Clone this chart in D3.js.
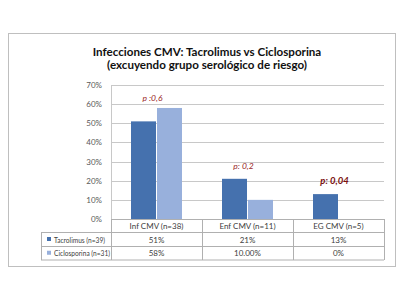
<!DOCTYPE html>
<html>
<head>
<meta charset="utf-8">
<script src="https://cdn.jsdelivr.net/npm/d3@7"></script>
<style>
  body { margin: 0; background: #fff; }
  svg { display: block; font-family: Lato, "Open Sans", sans-serif; }
</style>
</head>
<body>
<div id="chart"></div>
<script>
// --- DATA ---
const categories = ["Inf CMV (n=38)", "Enf CMV (n=11)", "EG CMV (n=5)"];
const seriesNames = ["Tacrolimus (n=39)", "Ciclosporina (n=31)"];
const tacrolimus = [0.51, 0.21, 0.13];
const ciclosporina = [0.58, 0.10, 0.0];
const tableText = [["51%", "21%", "13%"], ["58%", "10.00%", "0%"]];
const pLabels = ["p :0,6", "p: 0,2", "p: 0,04"];
const pValuesAt = [0.63, 0.275, 0.2];
const yTicks = [0, 0.1, 0.2, 0.3, 0.4, 0.5, 0.6, 0.7];

const colors = ["#4571AE", "#98B0DC"];

const W = 404, H = 304;
const svg = d3.select("#chart").append("svg").attr("width", W).attr("height", H);

// outer frame
svg.append("rect").attr("x", 8.5).attr("y", 33.5).attr("width", 387).attr("height", 233)
  .attr("fill", "#fff").attr("stroke", "#bfbfbf");

// title
svg.append("text").attr("x", 207).attr("y", 55.5).attr("text-anchor", "middle")
  .attr("font-weight", "bold").attr("font-size", 11.6).attr("fill", "#111")
  .text("Infecciones CMV: Tacrolimus vs Ciclosporina");
svg.append("text").attr("x", 207).attr("y", 69).attr("text-anchor", "middle")
  .attr("font-weight", "bold").attr("font-size", 11.6).attr("fill", "#111")
  .text("(excuyendo grupo serológico de riesgo)");

// scales
const x0 = d3.scaleBand().domain(categories).range([111, 384]);
const y = d3.scaleLinear().domain([0, 0.7]).range([219, 85]);

// gridlines
svg.append("g").selectAll("line").data(yTicks).join("line")
  .attr("x1", 111).attr("x2", 384)
  .attr("y1", d => Math.round(y(d)) + 0.5).attr("y2", d => Math.round(y(d)) + 0.5)
  .attr("stroke", "#c8c8c8");

// y axis labels
const yAxis = d3.axisLeft(y).tickValues(yTicks).tickFormat(d3.format(".0%")).tickSize(0).tickPadding(9);
const ya = svg.append("g").attr("transform", "translate(111,0)").call(yAxis);
ya.select(".domain").attr("stroke", "#c8c8c8");
ya.selectAll("text").attr("font-size", 8).attr("fill", "#595959").attr("font-family", "Lato, sans-serif");

// bars
const barW = 25;
const series = [tacrolimus, ciclosporina];
series.forEach((vals, si) => {
  svg.append("g").selectAll("rect").data(vals.map((v, i) => ({ v, c: categories[i] }))).join("rect")
    .attr("x", d => x0(d.c) + x0.bandwidth() / 2 - barW - 0.5 + si * (barW + 1))
    .attr("y", d => y(d.v))
    .attr("width", barW)
    .attr("height", d => y(0) - y(d.v))
    .attr("fill", colors[si]);
});

// p annotations
svg.append("g").selectAll("text").data(pLabels).join("text")
  .attr("x", (d, i) => x0(categories[i]) + x0.bandwidth() / 2 - 4)
  .attr("y", (d, i) => y(pValuesAt[i]) + 3)
  .attr("text-anchor", "middle")
  .attr("font-style", "italic")
  .attr("font-weight", (d, i) => i === 2 ? "bold" : "normal")
  .attr("font-size", (d, i) => i === 2 ? 9.5 : 8.5)
  .attr("fill", (d, i) => i === 2 ? "#7a0f0f" : "#9b2a2a")
  .text(d => d);

// data table
const rowY = [219, 232.5, 246.5, 260];
const tbl = svg.append("g").attr("stroke", "#b0b0b0").attr("fill", "none");
tbl.append("line").attr("x1", 111).attr("x2", 384).attr("y1", 219.5).attr("y2", 219.5);
[rowY[1], rowY[2], rowY[3]].forEach(yy => {
  tbl.append("line").attr("x1", 41).attr("x2", 384).attr("y1", yy).attr("y2", yy);
});
tbl.append("line").attr("x1", 41.5).attr("x2", 41.5).attr("y1", rowY[1]).attr("y2", rowY[3]);
[111, 202, 293, 384].forEach(xx => {
  tbl.append("line").attr("x1", xx + 0.5).attr("x2", xx + 0.5).attr("y1", 219).attr("y2", rowY[3]);
});

// category header row
svg.append("g").selectAll("text").data(categories).join("text")
  .attr("x", d => x0(d) + x0.bandwidth() / 2)
  .attr("y", (rowY[0] + rowY[1]) / 2 + 3)
  .attr("text-anchor", "middle").attr("font-size", 8).attr("fill", "#404040")
  .text(d => d);

// series rows
seriesNames.forEach((name, si) => {
  const cy = (rowY[si + 1] + rowY[si + 2]) / 2;
  svg.append("rect").attr("x", 47).attr("y", cy - 2.5).attr("width", 4).attr("height", 4).attr("fill", colors[si]);
  svg.append("text").attr("x", 54).attr("y", cy + 3).attr("font-size", 6.6).attr("fill", "#404040").text(name);
  svg.append("g").selectAll("text").data(tableText[si]).join("text")
    .attr("x", (d, i) => x0(categories[i]) + x0.bandwidth() / 2)
    .attr("y", cy + 3)
    .attr("text-anchor", "middle").attr("font-size", 8).attr("fill", "#404040")
    .text(d => d);
});
</script>
</body>
</html>
